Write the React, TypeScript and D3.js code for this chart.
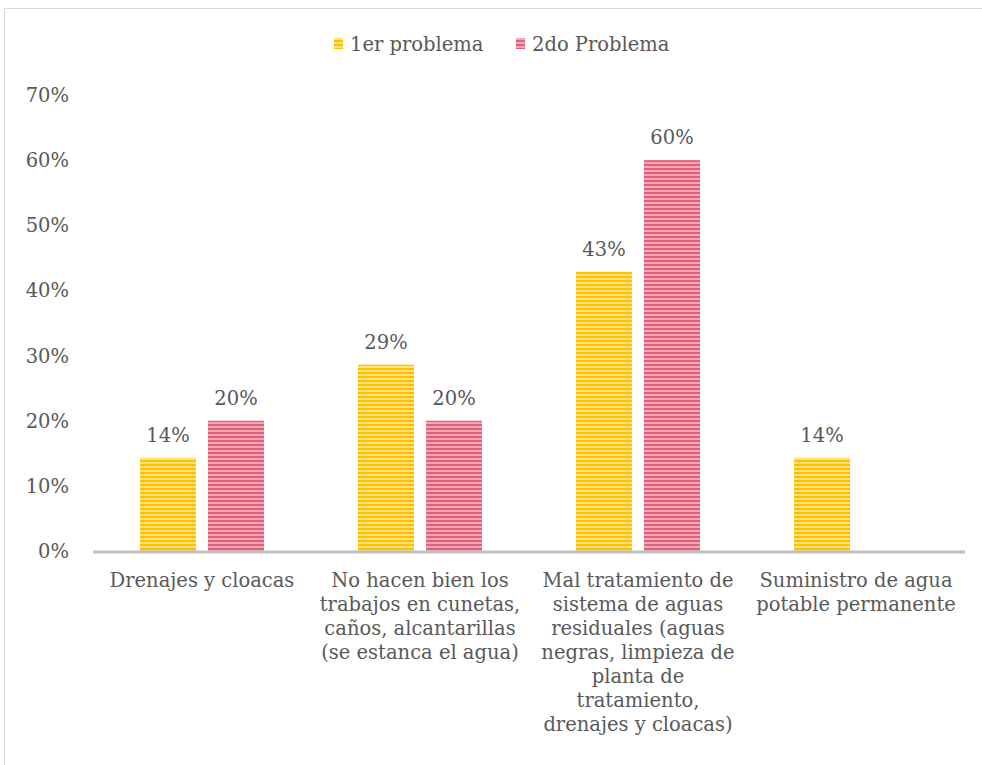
import React from "react";
import * as d3 from "d3";

const categories: string[][] = [
  ["Drenajes y cloacas"],
  ["No hacen bien los", "trabajos en cunetas,", "caños, alcantarillas", "(se estanca el agua)"],
  ["Mal tratamiento de", "sistema de aguas", "residuales (aguas", "negras, limpieza de", "planta de", "tratamiento,", "drenajes y cloacas)"],
  ["Suministro de agua", "potable permanente"],
];
const serie1: number[] = [0.143, 0.286, 0.429, 0.143];
const serie2: (number | null)[] = [0.2, 0.2, 0.6, null];
const seriesNames = ["1er problema", "2do Problema"];
const yTicks = [0, 0.1, 0.2, 0.3, 0.4, 0.5, 0.6, 0.7];

const W = 982;
const H = 765;
const FONT = "'DejaVu Serif', Georgia, serif";
const TXT = "#595959";
const FS = 19.5;

export default function App() {
  const left = 93, right = 965, top = 95, bottom = 551;
  const x = d3.scaleBand<number>().domain(d3.range(categories.length)).range([left, right]);
  const y = d3.scaleLinear().domain([0, 0.7]).range([bottom, top]);
  const barW = 56, gap = 12;
  const fmt = d3.format(".0%");
  const series = [serie1, serie2];
  const fills = ["url(#pY)", "url(#pP)"];

  return (
    <svg width={W} height={H} style={{ position: "absolute", left: 0, top: 0 }}>
      <defs>
        <pattern id="pY" patternUnits="userSpaceOnUse" width={4} height={4}>
          <rect width={4} height={4} fill="#FFE27A" />
          <rect width={4} height={2} fill="#FFC000" />
        </pattern>
        <pattern id="pP" patternUnits="userSpaceOnUse" width={4} height={4}>
          <rect width={4} height={4} fill="#F4A6B4" />
          <rect width={4} height={2} fill="#E0607A" />
        </pattern>
      </defs>
      <rect x={0} y={0} width={W} height={H} fill="#fff" />
      <rect x={4.5} y={8.5} width={W + 10} height={H + 10} fill="none" stroke="#d9d9d9" strokeWidth={1} />

      {/* legend */}
      <g fontFamily={FONT} fontSize={FS} fill={TXT}>
        <rect x={334} y={38} width={9} height={11} fill="url(#pY)" />
        <text x={350} y={51}>{seriesNames[0]}</text>
        <rect x={516} y={38} width={9} height={11} fill="url(#pP)" />
        <text x={532} y={51}>{seriesNames[1]}</text>
      </g>

      {/* y axis labels */}
      <g fontFamily={FONT} fontSize={FS} fill={TXT} textAnchor="end">
        {yTicks.map((t) => (
          <text key={t} x={69} y={y(t) + 7}>{fmt(t)}</text>
        ))}
      </g>

      {/* bars */}
      {series.map((s, si) =>
        s.map((v, i) => {
          if (v == null) return null;
          const cx = (x(i) as number) + x.bandwidth() / 2;
          const bx = si === 0 ? cx - gap / 2 - barW : cx + gap / 2;
          return (
            <g key={`${si}-${i}`}>
              <rect x={bx} y={y(v)} width={barW} height={bottom - y(v)} fill={fills[si]} />
              <text x={bx + barW / 2} y={y(v) - 16} textAnchor="middle" fontFamily={FONT} fontSize={FS} fill={TXT}>
                {fmt(v)}
              </text>
            </g>
          );
        })
      )}

      {/* baseline */}
      <line x1={left} x2={right} y1={bottom + 1} y2={bottom + 1} stroke="#bfbfbf" strokeWidth={3} />

      {/* category labels */}
      <g fontFamily={FONT} fontSize={FS} fill={TXT} textAnchor="middle">
        {categories.map((lines, i) => {
          const cx = (x(i) as number) + x.bandwidth() / 2;
          return lines.map((l, li) => (
            <text key={`${i}-${li}`} x={cx} y={587 + li * 24}>{l}</text>
          ));
        })}
      </g>
    </svg>
  );
}
